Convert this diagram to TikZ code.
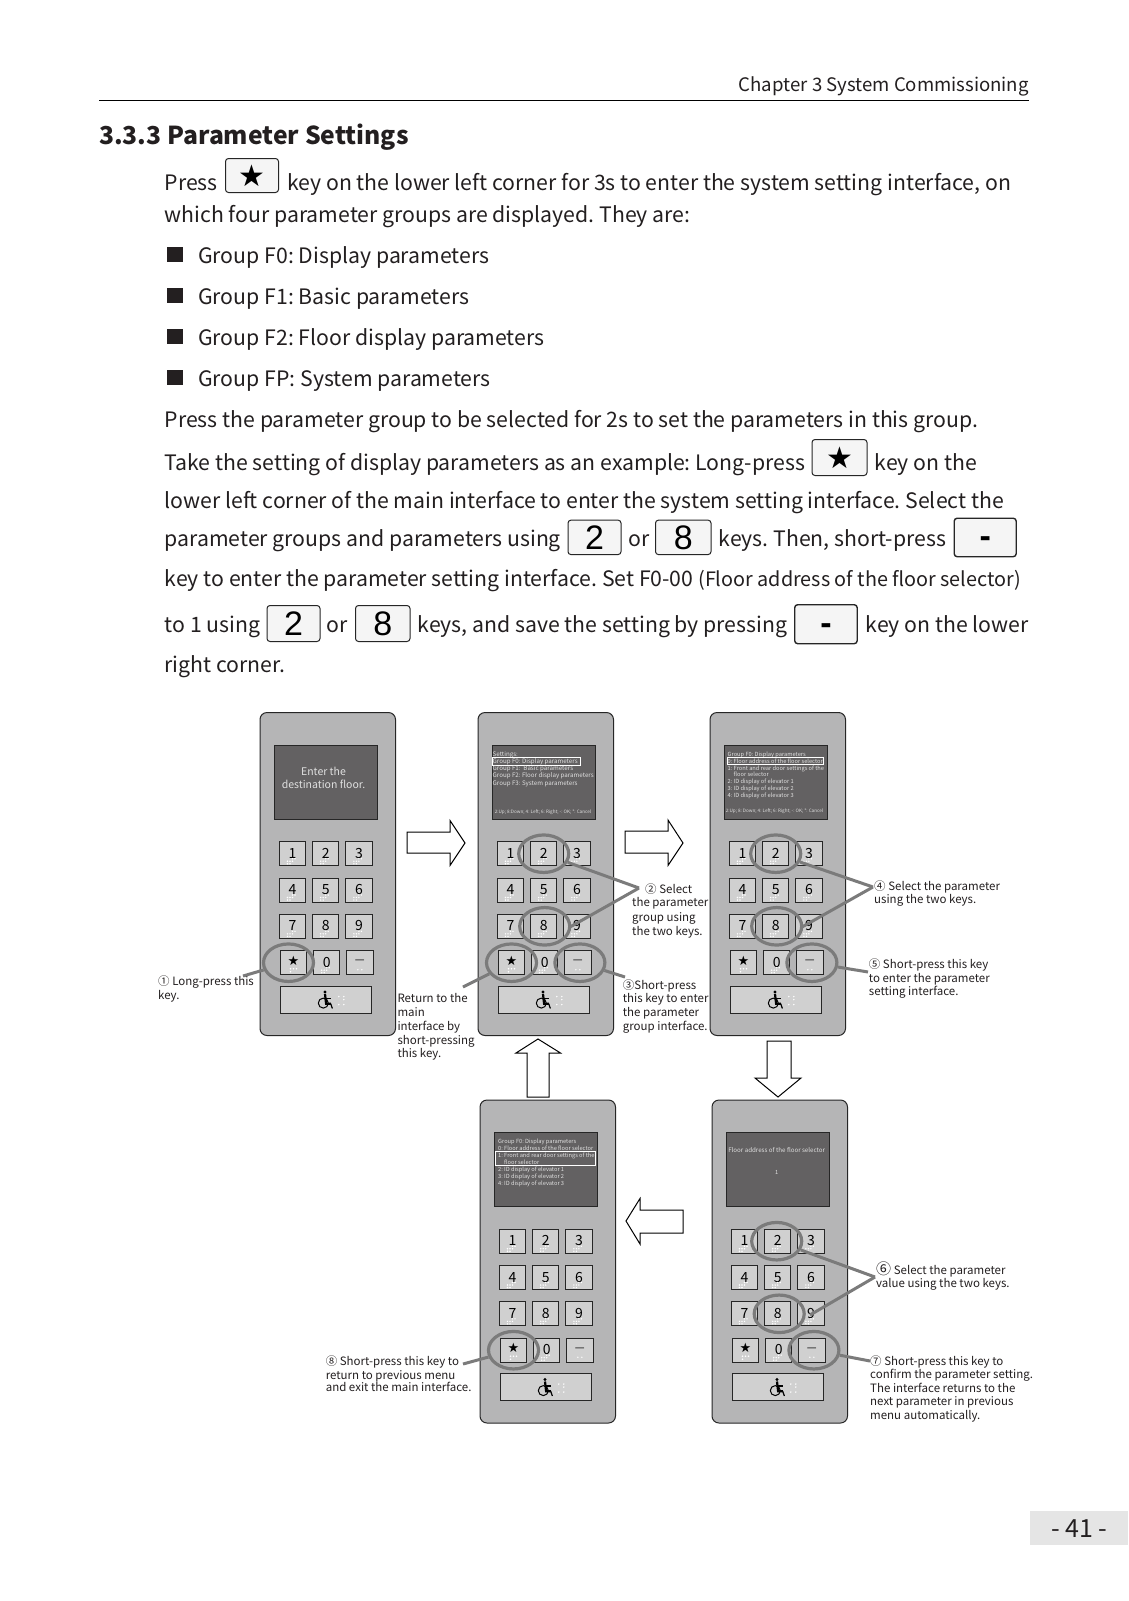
\documentclass[tikz,border=0pt]{standalone}
\usepackage{fontspec}
\setmainfont{Noto Sans CJK SC}
\newfontfamily\arialf{Liberation Sans}
\newfontfamily\djv{DejaVu Sans}
\usetikzlibrary{shapes.geometric}
\definecolor{panelgray}{HTML}{B5B5B6}
\definecolor{screengray}{HTML}{636162}
\definecolor{keygray}{HTML}{D0D0D0}
\definecolor{ringgray}{HTML}{7B7B7B}
\definecolor{textblk}{HTML}{231F20}
\newcommand\fs[1]{\fontsize{#1}{#1}\selectfont}
\frenchspacing
\tikzset{
  x=1pt,y=-1pt,
  body/.style={anchor=base west,inner sep=0pt,text=textblk,font=\fs{21.25}},
  small/.style={anchor=base west,inner sep=0pt,text=textblk,font=\fs{11.5}},
  scr/.style={anchor=base west,inner sep=0pt,text=white!88!black,font=\fs{6.2}},
  scl/.style={anchor=base west,inner sep=0pt,text=white!88!black,font=\fs{5.7}},
  scrc/.style={anchor=center,inner sep=0pt,text=white!88!black,font=\fs{5.7}},
  panelbox/.style={draw=black!85,line width=1pt,fill=panelgray,rounded corners=7pt},
  screenbox/.style={draw=black!85,line width=1pt,fill=screengray},
  keybox/.style={draw=black!85,line width=1pt,fill=keygray,minimum width=26.5pt,minimum height=24pt,inner sep=0pt,font=\fs{14},text=black},
  wheelbox/.style={draw=black!85,line width=1pt,fill=keygray,minimum width=91.5pt,minimum height=27pt,inner sep=0pt},
  ring/.style={ellipse,draw=ringgray,line width=3.2pt,minimum width=50pt,minimum height=37.5pt,inner sep=0pt},
  lead/.style={draw=ringgray,line width=3pt},
  bigarrow/.style={draw=black,line width=1pt,fill=white},
  selbox/.style={draw=white,line width=.8pt},
  inkey/.style={draw=black!85,line width=1pt,fill=black!4,rounded corners=3pt,inner sep=0pt},
  dotw/.style={fill=white},
}
\newcommand\brl[1]{\foreach \dx/\dy in {-5/10,-2.5/10,-2.5/7.5,0/7.5,0/5,2.5/5,#1}{\fill[dotw] (\dx,\dy) circle (.8);}}
\newcommand\keypad[3]{%
 \begin{scope}[shift={(#2,#3)}]
  \node[panelbox,minimum width=135.5pt,minimum height=323pt,anchor=north west,inner sep=0pt] (#1-body) at (0,0) {};
  \node[screenbox,minimum width=103pt,minimum height=74pt,anchor=north west,inner sep=0pt] (#1-screen) at (14,32.5) {};
  \foreach \t/\cx/\cy in {1/33/141.7,2/66.2/141.7,3/99.4/141.7,4/33/178,5/66.2/178,6/99.4/178,7/33/214.3,8/66.2/214.3,9/99.4/214.3,0/67.2/250.7}{
    \node[keybox] (#1-k\t) at (\cx,\cy) {\raisebox{1pt}{\t}};
    \begin{scope}[shift={(\cx,\cy)}]\brl{-5/7.5}\end{scope}
  }
  \node[keybox,font=\djv\fs{13}] (#1-kstar) at (34,250.7) {\raisebox{4.5pt}{★}};
  \begin{scope}[shift={(34,250.7)}]\foreach \dx/\dy in {-3/6,0/6,3/6,-3/9}{\fill[dotw] (\dx,\dy) circle (.8);}\end{scope}
  \node[keybox] (#1-kminus) at (100.4,250.7) {\raisebox{1pt}{\fs{11}—}};
  \begin{scope}[shift={(100.4,250.7)}]\foreach \dx/\dy in {-2/7,2/7}{\fill[dotw] (\dx,\dy) circle (.8);}\end{scope}
  \node[wheelbox] (#1-wheel) at (66.3,287.5) {};
  \begin{scope}[shift={(66.3,287.5)}]
    \foreach \dx/\dy in {13/-3,18/-3,18/0,13/5,18/5}{\fill[dotw] (\dx,\dy) circle (.8);}
    \draw[black,line width=1pt] (-2.5,3.6) circle (5);
    \fill[black] (-.8,-7.5) circle (1.6);
    \draw[black,line width=2.2pt] (-.8,-5.5) -- (.3,4.2) -- (5,4.2);
    \draw[black,line width=1.6pt] (.2,-1) -- (5,-1);
    \draw[black,line width=1.2pt] (4.8,4) -- (6.6,9);
  \end{scope}
 \end{scope}}
\begin{document}
\begin{tikzpicture}
\useasboundingbox (0,0) rectangle (1128,1601);
\fill[white] (0,0) rectangle (1128,1601);
% header
\node[body,font=\fs{18.6},anchor=base east] (hdr) at (1029,91) {Chapter 3 System Commissioning};
\coordinate (ruleL) at (99,100.5); \coordinate (ruleR) at (1029,100.5);
\draw[line width=.8pt,black] (ruleL) -- (ruleR);
\node[body,font=\bfseries\fs{24.7}] (ttl) at (99,144.5) {3.3.3 Parameter Settings};
% paragraph
\node[body] (t1) at (164.5,190) {Press};
\node[inkey,anchor=north west,minimum width=53pt,minimum height=34pt] (ks1) at (225,158) {\djv\fs{30}★};
\node[body] (t2) at (287,190) {key on the lower left corner for 3s to enter the system setting interface, on};
\node[body] (t3) at (164.5,222) {which four parameter groups are displayed. They are:};
\foreach \n/\b/\s in {a/263.5/Group F0: Display parameters,b/304.5/Group F1: Basic parameters,c/345.5/Group F2: Floor display parameters,d/386.5/Group FP: System parameters}{
  \fill[textblk] (166.7,\b-17) rectangle (182.7,\b-1.5);
  \node[body] (g\n) at (198,\b) {\s};
}
\node[body] (t4) at (164.5,427.5) {Press the parameter group to be selected for 2s to set the parameters in this group.};
\node[body] (t5) at (164.5,470) {Take the setting of display parameters as an example: Long-press};
\node[inkey,anchor=north west,minimum width=55pt,minimum height=36pt] (ks2) at (811.5,439) {\djv\fs{30}★};
\node[body] (t6) at (874.5,470) {key on the};
\node[body] (t7) at (164.5,508) {lower left corner of the main interface to enter the system setting interface. Select the};
\node[body] (t8) at (164.5,546.5) {parameter groups and parameters using};
\node[inkey,anchor=north west,minimum width=53pt,minimum height=34.5pt,font=\arialf\fs{34}] (k2a) at (567.5,519.6) {2};
\node[body] (t9) at (628,546.5) {or};
\node[inkey,anchor=north west,minimum width=55.5pt,minimum height=34.5pt,font=\arialf\fs{34}] (k8a) at (655,519.6) {8};
\node[body] (t10) at (718.5,546.5) {keys. Then, short-press};
\node[inkey,line width=1.4pt,anchor=north west,minimum width=62pt,minimum height=38.5pt,font=\arialf\bfseries\fs{34}] (kma) at (953.5,517.5) {\raisebox{-10pt}[0pt][0pt]{-}};
\node[body] (t11) at (164.5,586.5) {key to enter the parameter setting interface. Set F0-00 {\fs{19.8}(Floor address of the floor selector)}};
\node[body] (t12) at (164.5,632.5) {to 1 using};
\node[inkey,anchor=north west,minimum width=53pt,minimum height=36pt,font=\arialf\fs{34}] (k2b) at (266.5,605) {2};
\node[body] (t13) at (326.5,632.5) {or};
\node[inkey,anchor=north west,minimum width=54.5pt,minimum height=36pt,font=\arialf\fs{34}] (k8b) at (355,605) {8};
\node[body] (t14) at (417.5,632.5) {keys, and save the setting by pressing};
\node[inkey,line width=1.4pt,anchor=north west,minimum width=62.5pt,minimum height=39pt,font=\arialf\bfseries\fs{34}] (kmb) at (794,604) {\raisebox{-10pt}[0pt][0pt]{-}};
\node[body] (t15) at (865.5,632.5) {key on the lower};
\node[body] (t16) at (164.5,672.5) {right corner.};
% keypads
\keypad{pa}{259.5}{712}
\keypad{pb}{477.5}{712}
\keypad{pc}{709.5}{712}
\keypad{pd}{479.5}{1099.5}
\keypad{pe}{711.5}{1099.5}
% screen texts
\node[anchor=center,inner sep=0pt,text=white!88!black,font=\fs{10.5},align=center] (sa) at (323.5,778) {Enter the\\[3pt]destination floor.};
\begin{scope}[shift={(477.5,712)}]
 \node[scr] (sb1) at (15,44) {Settings:};
 \node[scr] (sb2) at (15,51) {Group F0: Display parameters};
 \draw[selbox] (14.5,45.3) rectangle (103,53);
 \node[scr] (sb3) at (15,58.5) {Group F1:~ Basic parameters};
 \node[scr] (sb4) at (15,65.5) {Group F2: Floor display parameters};
 \node[scr] (sb5) at (15,73.5) {Group F3: System parameters};
 \node[scrc,font=\fs{4.6}] (sb6) at (65.5,100) {2:Up; 8:Down; 4: Left; 6: Right; -: OK; *: Cancel};
\end{scope}
\begin{scope}[shift={(709.5,712)}]
 \node[scl] (sc1) at (18,44) {Group F0: Display parameters};
 \node[scl] (sc2) at (18,51) {0: Floor address of the floor selector};
 \draw[selbox] (17.8,45.3) rectangle (113.8,52.3);
 \node[scl] (sc3) at (18,58) {1: Front and rear door settings of the};
 \node[scl] (sc4) at (24,64.5) {floor selector};
 \node[scl] (sc5) at (18,71) {2: ID display of elevator 1};
 \node[scl] (sc6) at (18,78) {3: ID display of elevator 2};
 \node[scl] (sc7) at (18,85) {4: ID display of elevator 3};
 \node[scrc,font=\fs{4.6}] (sc8) at (65,99) {2:Up; 8: Down; 4: Left; 6: Right; -: OK; *: Cancel};
\end{scope}
\begin{scope}[shift={(479,1099.5)}]
 \node[scl] (sd1) at (19,43.5) {Group F0: Display parameters};
 \node[scl] (sd2) at (19,50.8) {0: Floor address of the floor selector};
 \draw[selbox] (16.3,51.8) rectangle (116.7,65.8);
 \node[scl] (sd3) at (19,57.8) {1: Front and rear door settings of the};
 \node[scl] (sd4) at (25,64.8) {floor selector};
 \node[scl] (sd5) at (19,71.8) {2: ID display of elevator 1};
 \node[scl] (sd6) at (19,78.8) {3: ID display of elevator 2};
 \node[scl] (sd7) at (19,85.8) {4: ID display of elevator 3};
\end{scope}
\node[scrc,font=\fs{6.2}] (se1) at (776.7,1149.7) {Floor address of the floor selector};
\node[scrc] (se2) at (776.7,1172) {1};
% rings
\node[ring,xshift=-5pt] (ra) at (pa-kstar) {};
\node[ring] (rb2) at (pb-k2) {};
\node[ring,xshift=1pt] (rb8) at (pb-k8) {};
\node[ring] (rbs) at (pb-kstar) {};
\node[ring,xshift=2pt] (rbm) at (pb-kminus) {};
\node[ring] (rc2) at (pc-k2) {};
\node[ring,xshift=1pt] (rc8) at (pc-k8) {};
\node[ring,xshift=2pt] (rcm) at (pc-kminus) {};
\node[ring] (rds) at (pd-kstar) {};
\node[ring,xshift=-1pt] (re2) at (pe-k2) {};
\node[ring,xshift=1.5pt] (re8) at (pe-k8) {};
\node[ring,xshift=2pt] (rem) at (pe-kminus) {};
% leaders
\coordinate (ca) at (243,976);
\coordinate (cb) at (639,888); \coordinate (cb8) at (570,927);
\coordinate (cbs) at (463,987); \coordinate (cbm) at (625,977);
\coordinate (cc) at (873,887); \coordinate (cc8) at (802,927);
\coordinate (ccm) at (868,972);
\coordinate (cd) at (463,1364);
\coordinate (ce) at (875,1277); \coordinate (ce8) at (810,1315);
\coordinate (cem) at (870,1361);
\draw[lead] (ra) -- (ca);
\draw[lead] (rb2) -- (cb); \draw[lead] (cb8) -- (cb);
\draw[lead] (rbs) -- (cbs);
\draw[lead] (rbm) -- (cbm);
\draw[lead] (rc2) -- (cc); \draw[lead] (cc8) -- (cc);
\draw[lead] (rcm) -- (ccm);
\draw[lead] (rds) -- (cd);
\draw[lead] (re2) -- (ce); \draw[lead] (ce8) -- (ce);
\draw[lead] (rem) -- (cem);
% big arrows
\draw[bigarrow] (407,832) -- (450,832) -- (450,820.5) -- (465,843) -- (450,865.5) -- (450,853) -- (407,853) -- cycle;
\draw[bigarrow] (625,831) -- (668,831) -- (668,820) -- (683,843) -- (668,865.5) -- (668,853) -- (625,853) -- cycle;
\draw[bigarrow] (527,1097) -- (527,1053) -- (516,1053) -- (538,1039) -- (560.5,1053) -- (549,1053) -- (549,1097) -- cycle;
\draw[bigarrow] (767,1041) -- (767,1078) -- (755,1078) -- (778,1097) -- (801,1078) -- (791,1078) -- (791,1041) -- cycle;
\draw[bigarrow] (683,1210) -- (640,1210) -- (640,1198.5) -- (626,1221) -- (640,1244) -- (640,1233) -- (683,1233) -- cycle;
% labels
\node[small] (l1a) at (158,985) {① Long-press this};
\node[small] (l1b) at (158,999.5) {key.};
\node[small] (lr1) at (397.3,1002.7) {Return to the};
\node[small] (lr2) at (397.3,1016.5) {main};
\node[small] (lr3) at (397.3,1030.3) {interface by};
\node[small] (lr4) at (397.3,1044) {short-pressing};
\node[small] (lr5) at (397.3,1057.9) {this key.};
\node[small] (l2a) at (645,893) {② Select};
\node[small] (l2b) at (632,906.5) {the parameter};
\node[small] (l2c) at (632,921) {group using};
\node[small] (l2d) at (632,935) {the two keys.};
\node[small] (l3a) at (622.7,989) {③Short-press};
\node[small] (l3b) at (622.7,1002.5) {this key to enter};
\node[small] (l3c) at (622.7,1016.7) {the parameter};
\node[small] (l3d) at (622.7,1030) {group interface.};
\node[small] (l4a) at (874,890) {④ Select the parameter};
\node[small] (l4b) at (874,903.5) {using the two keys.};
\node[small] (l5a) at (868.7,968) {⑤ Short-press this key};
\node[small] (l5b) at (868.7,982) {to enter the parameter};
\node[small] (l5c) at (868.7,995.3) {setting interface.};
\node[small] (l8a) at (325.6,1365) {⑧ Short-press this key to};
\node[small] (l8b) at (325.6,1379) {return to previous menu};
\node[small] (l8c) at (325.6,1391) {and exit the main interface.};
\node[small] (l6a) at (876,1274) {{\fs{15}⑥} Select the parameter};
\node[small] (l6b) at (876,1287.3) {value using the two keys.};
\node[small] (l7a) at (870,1365) {⑦ Short-press this key to};
\node[small] (l7b) at (870,1378.7) {confirm the parameter setting.};
\node[small] (l7c) at (870,1392) {The interface returns to the};
\node[small] (l7d) at (870,1405.7) {next parameter in previous};
\node[small] (l7e) at (870,1419) {menu automatically.};
% page number
\node[fill=black!10,minimum width=98pt,minimum height=34pt,anchor=north west,inner sep=0pt,font=\fs{25},text=textblk] (pg) at (1030,1511) {- 41 -};
\end{tikzpicture}
\end{document}
